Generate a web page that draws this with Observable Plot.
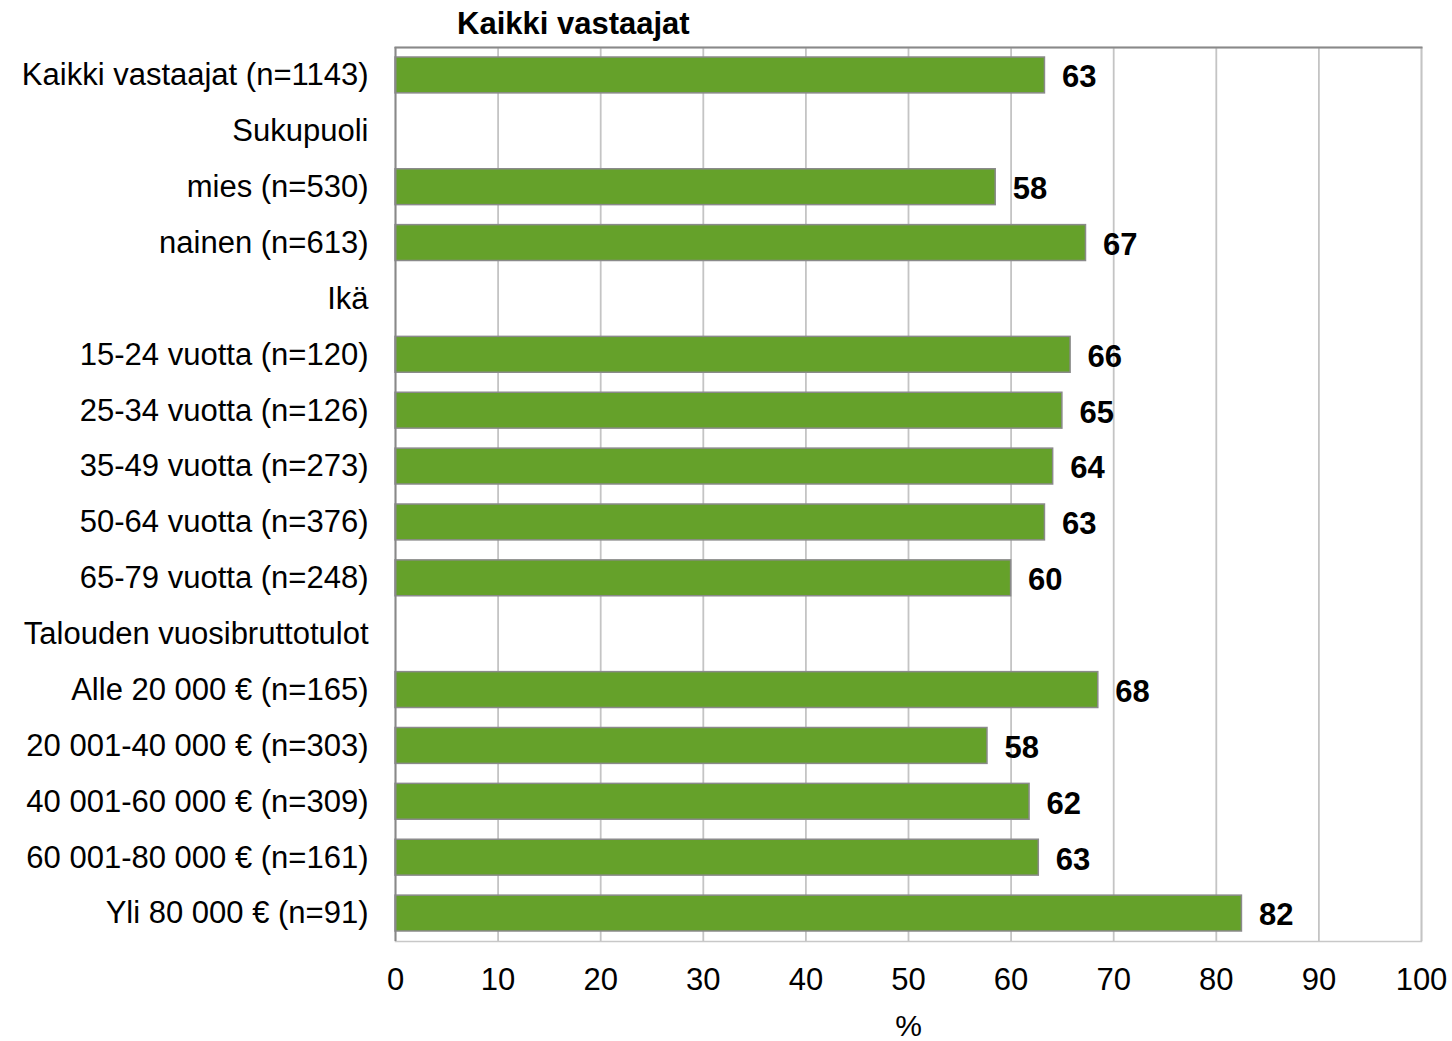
<!DOCTYPE html>
<html><head><meta charset="utf-8">
<script src="https://cdn.jsdelivr.net/npm/d3@7"></script>
<script src="https://cdn.jsdelivr.net/npm/@observablehq/plot@0.6"></script>
<style>
body{margin:0;background:#fff;font-family:"Liberation Sans",Arial,sans-serif}
#title{height:47px;position:relative;width:1452px}
#title span{position:absolute;left:457px;top:8px;font-weight:bold;font-size:31px;line-height:31px;color:#000}
</style>
</head><body>
<div id="title"><span>Kaikki vastaajat</span></div>
<div id="chart"></div>
<script>
const categories = [
  "Kaikki vastaajat (n=1143)",
  "Sukupuoli",
  "mies (n=530)",
  "nainen (n=613)",
  "Ikä",
  "15-24 vuotta (n=120)",
  "25-34 vuotta (n=126)",
  "35-49 vuotta (n=273)",
  "50-64 vuotta (n=376)",
  "65-79 vuotta (n=248)",
  "Talouden vuosibruttotulot",
  "Alle 20 000 € (n=165)",
  "20 001-40 000 € (n=303)",
  "40 001-60 000 € (n=309)",
  "60 001-80 000 € (n=161)",
  "Yli 80 000 € (n=91)"
];
const values = [63.3, null, 58.5, 67.3, null, 65.8, 65.0, 64.1, 63.3, 60.0, null, 68.5, 57.7, 61.8, 62.7, 82.5];
const valueLabels = ["63", "", "58", "67", "", "66", "65", "64", "63", "60", "", "68", "58", "62", "63", "82"];
const xTicks = [0, 10, 20, 30, 40, 50, 60, 70, 80, 90, 100];
const gridTicks = [10, 20, 30, 40, 50, 60, 70, 80, 90, 100];
const axisLabel = "%";

const data = categories.map((c, i) => ({category: c, value: values[i], label: valueLabels[i]}))
  .filter(d => d.value != null);

const chart = Plot.plot({
  width: 1452,
  height: 994,
  marginTop: 0,
  marginBottom: 100,
  marginLeft: 395,
  marginRight: 31,
  style: {fontFamily: '"Liberation Sans", Arial, sans-serif', color: "#000", background: "#fff", overflow: "visible"},
  x: {domain: [0, 100]},
  y: {domain: categories, padding: 0, round: false},
  marks: [
    Plot.frame({stroke: "#c8c8c8", strokeWidth: 1.5}),
    Plot.ruleX(gridTicks, {stroke: "#c4c4c4", strokeWidth: 1.8}),
    Plot.frame({anchor: "top", stroke: "#898989", strokeWidth: 2}),
    Plot.barX(data, {y: "category", x: "value", insetTop: 10, insetBottom: 10, fill: "#65A12A", stroke: "#8a8a8a", strokeWidth: 1.5}),
    Plot.ruleX([0], {stroke: "#898989", strokeWidth: 2}),
    Plot.text(data, {y: "category", x: "value", text: "label", textAnchor: "start", dx: 17, dy: 2, fontSize: 31, fontWeight: "bold", fill: "#000"}),
    Plot.axisY({tickSize: 0, tickPadding: 27, fontSize: 31, label: null}),
    Plot.axisX({ticks: xTicks, tickSize: 0, tickPadding: 26, fontSize: 31, label: null}),
    Plot.text([axisLabel], {frameAnchor: "bottom", dy: 85, fontSize: 30, lineAnchor: "middle", fill: "#000"})
  ]
});
document.getElementById("chart").append(chart);
</script>
</body></html>
